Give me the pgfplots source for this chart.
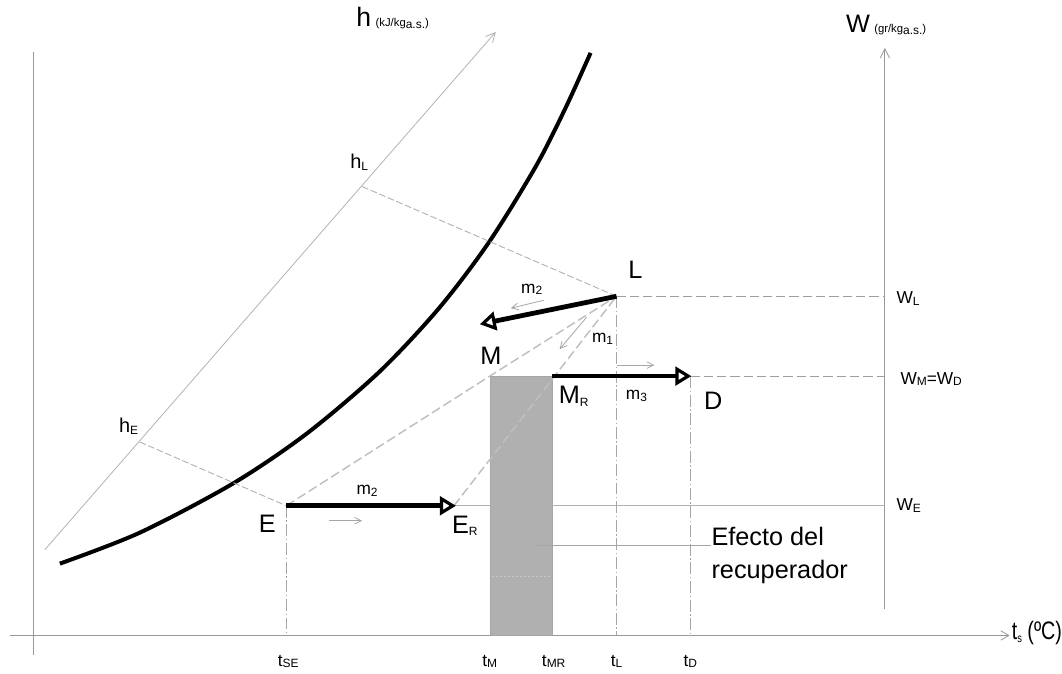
\documentclass[border=0pt]{standalone}
\usepackage{pgfplots}
\pgfplotsset{compat=1.18}
\usepackage{fontspec}
\setmainfont{Liberation Sans}
\usetikzlibrary{arrows.meta}
% small index letters
\newcommand{\ix}[1]{\raisebox{-0.2ex}{\fontsize{9}{9}\selectfont #1}}
\begin{document}
\begin{tikzpicture}
\begin{axis}[
    scale only axis,
    width=796.5pt, height=506.25pt,
    xmin=0, xmax=1062, ymin=0, ymax=675,
    y dir=reverse,
    axis lines=none,
    clip=false,
    every axis plot/.append style={line cap=butt, line join=round},
    thin gray/.style={gray!80, line width=0.6pt},
    dsh/.style={gray!75, line width=0.7pt, dash pattern=on 7pt off 3pt},
    fat arrow/.style={black, line width=3.6pt, -{Triangle[open, length=12pt, width=14pt, line width=2.4pt]}},
    small arrow/.style={gray!70, line width=0.6pt, -{Straight Barb[length=5pt, width=5pt]}},
]
% frame extent
\addplot[draw=none] coordinates {(0,0) (1062,675)};

% left vertical line and temperature axis
\addplot[thin gray] coordinates {(33,52) (33,657)};
\addplot[thin gray, -{Straight Barb[length=6pt, width=7pt]}] coordinates {(10,637) (1012,637)};
% W axis
\addplot[thin gray, -{Straight Barb[length=7pt, width=7pt]}] coordinates {(887,610) (887,48)};
% h axis
\addplot[thin gray, gray!60, -{Straight Barb[length=7pt, width=7pt]}] coordinates {(45,551) (497,32)};

% recuperator effect band
\addplot[fill=gray!62, draw=gray!70, line width=0.4pt] coordinates {(491,377) (554,377) (554,637) (491,637)} -- cycle;
\addplot[gray!45, line width=0.5pt, dash pattern=on 2pt off 1pt] coordinates {(493,578) (552,578)};

% saturation curve
\addplot[black, line width=3pt, smooth] coordinates {
(60,565) (140,534) (233,485) (307,435) (380,373) (440,309) (490,243) (537,167) (567,108) (592,53)
};

% enthalpy lines
\addplot[dsh, gray!60, dash pattern=on 5pt off 2pt] coordinates {(363,187) (618,297)};
\addplot[dsh, gray!60, dash pattern=on 5pt off 2pt] coordinates {(140,443) (287,507)};

% mixing lines
\addplot[dsh, gray!50, line width=1.1pt] coordinates {(287,507) (491,377) (618,297)};
\addplot[dsh, gray!50, line width=1.1pt] coordinates {(455,507) (556,377) (618,297)};

% humidity lines
\addplot[dsh] coordinates {(618,297) (887,297)};
\addplot[dsh] coordinates {(692,377) (887,377)};
\addplot[thin gray, gray!60] coordinates {(455,507) (887,507)};

% temperature drops
\addplot[dsh, gray!70, line width=0.6pt, dash pattern=on 9pt off 2pt on 1pt off 2pt] coordinates {(287,507) (287,637)};
\addplot[dsh, gray!70, line width=0.6pt, dash pattern=on 9pt off 2pt on 1pt off 2pt] coordinates {(618,297) (618,637)};
\addplot[dsh, gray!70, line width=0.6pt, dash pattern=on 9pt off 2pt on 1pt off 2pt] coordinates {(692,377) (692,637)};

% leader for the recuperator note
\addplot[thin gray, gray!70] coordinates {(537,547) (713,547)};

% process arrows
\addplot[fat arrow] coordinates {(618,297) (481,325)};
\addplot[fat arrow] coordinates {(553,377) (693,377)};
\addplot[fat arrow] coordinates {(287,507) (457,507)};

% small flow arrows
\addplot[small arrow] coordinates {(545,301) (512,309)};
\addplot[small arrow] coordinates {(588,318) (561,350)};
\addplot[small arrow] coordinates {(618,366) (656,366)};
\addplot[small arrow] coordinates {(330,522) (363,522)};

% axis titles
\node[anchor=base west, inner sep=0] at (axis cs:357,27) {\fontsize{20}{22}\selectfont h\,\fontsize{8.5}{9}\selectfont(kJ/kg\ix{a.s.})};
\node[anchor=base west, inner sep=0] at (axis cs:848,33) {\fontsize{19}{22}\selectfont W\,\fontsize{8.5}{9}\selectfont(gr/kg\ix{a.s.})};
\node[anchor=base west, inner sep=0] at (axis cs:1014,641) {\scalebox{0.78}[1]{\fontsize{19}{22}\selectfont t\ix{s} (ºC)}};

% point labels
\node at (axis cs:360,163) {\fontsize{15}{16}\selectfont h\ix{L}};
\node at (axis cs:129,427) {\fontsize{15}{16}\selectfont h\ix{E}};
\node at (axis cs:637,270) {\fontsize{19}{20}\selectfont L};
\node at (axis cs:492,357) {\fontsize{19}{20}\selectfont M};
\node at (axis cs:575,397) {\fontsize{19}{20}\selectfont M\ix{R}};
\node at (axis cs:715,402) {\fontsize{19}{20}\selectfont D};
\node at (axis cs:268,525) {\fontsize{19}{20}\selectfont E};
\node at (axis cs:466,527) {\fontsize{19}{20}\selectfont E\ix{R}};

% stream labels
\node at (axis cs:533,290) {\fontsize{13}{14}\selectfont m\ix{2}};
\node at (axis cs:604,340) {\fontsize{13}{14}\selectfont m\ix{1}};
\node at (axis cs:638,397) {\fontsize{13}{14}\selectfont m\ix{3}};
\node at (axis cs:368,492) {\fontsize{13}{14}\selectfont m\ix{2}};

% humidity labels
\node[anchor=west] at (axis cs:894,299) {\fontsize{13}{14}\selectfont W\ix{L}};
\node[anchor=west] at (axis cs:898,380) {\fontsize{13}{14}\selectfont W\ix{M}=W\ix{D}};
\node[anchor=west] at (axis cs:894,507) {\fontsize{13}{14}\selectfont W\ix{E}};

% temperature labels
\node at (axis cs:289,663) {\fontsize{13}{14}\selectfont t\ix{SE}};
\node at (axis cs:491,663) {\fontsize{13}{14}\selectfont t\ix{M}};
\node at (axis cs:555,663) {\fontsize{13}{14}\selectfont t\ix{MR}};
\node at (axis cs:618,663) {\fontsize{13}{14}\selectfont t\ix{L}};
\node at (axis cs:692,663) {\fontsize{13}{14}\selectfont t\ix{D}};

% note
\node[anchor=north west, align=left, inner sep=0, font=\fontsize{19}{25}\selectfont] at (axis cs:713,528) {Efecto del\\recuperador};
\end{axis}
\end{tikzpicture}
\end{document}
